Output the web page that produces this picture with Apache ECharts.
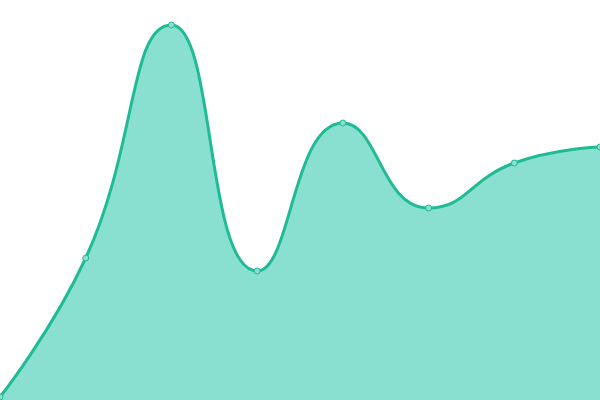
<!DOCTYPE html>
<html lang="en">
<head>
<meta charset="UTF-8">
<title>Area</title>
<script src="https://cdn.jsdelivr.net/npm/echarts@6/dist/echarts.min.js"></script>
<style>
  html, body { margin: 0; padding: 0; background: #fff; }
  #chart { width: 600px; height: 400px; }
</style>
</head>
<body>
<div id="chart"></div>
<script>
// x categories and values
var categories = ['1', '2', '3', '4', '5', '6', '7', '8'];
var values = [3, 142, 375, 129, 277, 192, 237, 253];

var myChart = echarts.init(document.getElementById('chart'));
var option = {
  animation: false,
  grid: { left: 0, right: 0, top: 0, bottom: 0 },
  xAxis: {
    type: 'category',
    data: categories,
    boundaryGap: false,
    show: false
  },
  yAxis: {
    type: 'value',
    min: 0,
    max: 400,
    show: false
  },
  series: [
    {
      type: 'line',
      data: values,
      smooth: true,
      symbol: 'circle',
      symbolSize: 6,
      lineStyle: { color: '#1fbb95', width: 3 },
      itemStyle: { color: '#8ae0d0', borderColor: '#1fbb95', borderWidth: 1 },
      areaStyle: { color: '#8ae0d0', opacity: 1 }
    }
  ]
};
myChart.setOption(option);
</script>
</body>
</html>
